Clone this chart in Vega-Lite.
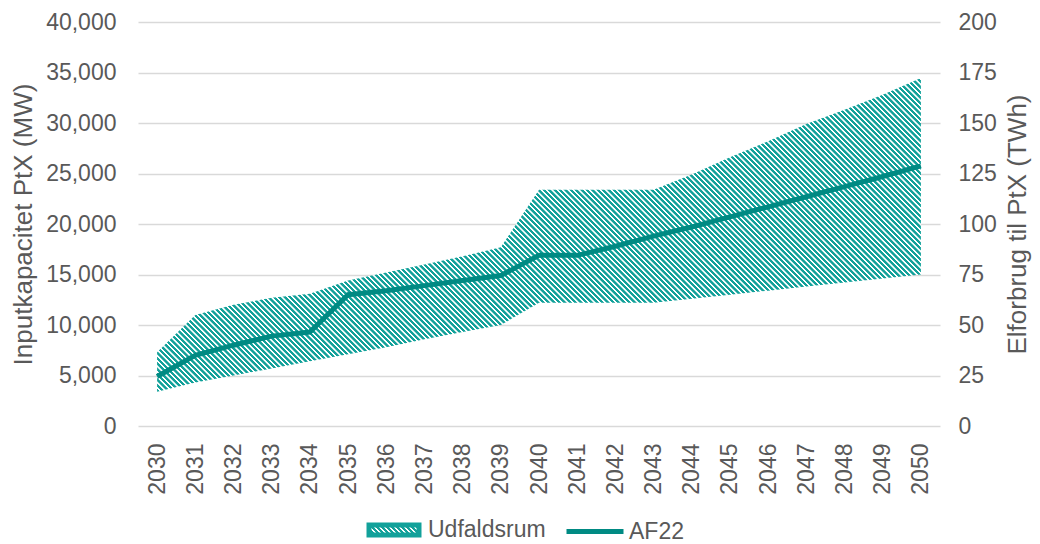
{
"$schema":"https://vega.github.io/schema/vega-lite/v6.json",
"width":802,"height":404,
"autosize":{"type":"none"},
"padding":{"left":138,"top":22,"right":100,"bottom":118},
"background":"white",
"config":{"view":{"stroke":null},"font":"Liberation Sans",
"axis":{"labelFont":"Liberation Sans","titleFont":"Liberation Sans","labelColor":"#595959","titleColor":"#595959","labelFontSize":23,"titleFontSize":26,"titleFontWeight":"normal","domain":false,"ticks":false,"gridColor":"#d9d9d9","gridWidth":1.5},
"legend":{"labelFont":"Liberation Sans"}},
"data":{"values":[
{"year":"2030","lo":3400,"hi":7300,"af22":4900},
{"year":"2031","lo":4300,"hi":11000,"af22":7000},
{"year":"2032","lo":5000,"hi":12000,"af22":8000},
{"year":"2033","lo":5700,"hi":12700,"af22":8900},
{"year":"2034","lo":6400,"hi":13100,"af22":9300},
{"year":"2035","lo":7100,"hi":14400,"af22":13000},
{"year":"2036","lo":7800,"hi":15200,"af22":13400},
{"year":"2037","lo":8600,"hi":16000,"af22":13900},
{"year":"2038","lo":9300,"hi":16800,"af22":14400},
{"year":"2039","lo":10000,"hi":17700,"af22":14900},
{"year":"2040","lo":12200,"hi":23400,"af22":16900},
{"year":"2041","lo":12200,"hi":23400,"af22":16900},
{"year":"2042","lo":12200,"hi":23400,"af22":17800},
{"year":"2043","lo":12200,"hi":23400,"af22":18800},
{"year":"2044","lo":12600,"hi":24900,"af22":19700},
{"year":"2045","lo":13000,"hi":26600,"af22":20700},
{"year":"2046","lo":13400,"hi":28200,"af22":21700},
{"year":"2047","lo":13800,"hi":29900,"af22":22700},
{"year":"2048","lo":14200,"hi":31300,"af22":23700},
{"year":"2049","lo":14600,"hi":32800,"af22":24700},
{"year":"2050","lo":15000,"hi":34450,"af22":25750}
]},
"layer":[
{"layer":[
{"mark":{"type":"area","fill":{"gradient":"linear","x1":0,"y1":1,"x2":1.2071,"y2":0.5044,"stops":[
{"offset":0,"color":"#12a19a"},{"offset":0.0025,"color":"#12a19a"},{"offset":0.003,"color":"#fff"},{"offset":0.0045,"color":"#fff"},{"offset":0.005,"color":"#12a19a"},{"offset":0.0075,"color":"#12a19a"},{"offset":0.008,"color":"#fff"},{"offset":0.0095,"color":"#fff"},
{"offset":0.01,"color":"#12a19a"},{"offset":0.0125,"color":"#12a19a"},{"offset":0.013,"color":"#fff"},{"offset":0.0145,"color":"#fff"},{"offset":0.015,"color":"#12a19a"},{"offset":0.0175,"color":"#12a19a"},{"offset":0.018,"color":"#fff"},{"offset":0.0195,"color":"#fff"},
{"offset":0.02,"color":"#12a19a"},{"offset":0.0225,"color":"#12a19a"},{"offset":0.023,"color":"#fff"},{"offset":0.0245,"color":"#fff"},{"offset":0.025,"color":"#12a19a"},{"offset":0.0275,"color":"#12a19a"},{"offset":0.028,"color":"#fff"},{"offset":0.0295,"color":"#fff"},
{"offset":0.03,"color":"#12a19a"},{"offset":0.0325,"color":"#12a19a"},{"offset":0.033,"color":"#fff"},{"offset":0.0345,"color":"#fff"},{"offset":0.035,"color":"#12a19a"},{"offset":0.0375,"color":"#12a19a"},{"offset":0.038,"color":"#fff"},{"offset":0.0395,"color":"#fff"},
{"offset":0.04,"color":"#12a19a"},{"offset":0.0425,"color":"#12a19a"},{"offset":0.043,"color":"#fff"},{"offset":0.0445,"color":"#fff"},{"offset":0.045,"color":"#12a19a"},{"offset":0.0475,"color":"#12a19a"},{"offset":0.048,"color":"#fff"},{"offset":0.0495,"color":"#fff"},
{"offset":0.05,"color":"#12a19a"},{"offset":0.0525,"color":"#12a19a"},{"offset":0.053,"color":"#fff"},{"offset":0.0545,"color":"#fff"},{"offset":0.055,"color":"#12a19a"},{"offset":0.0575,"color":"#12a19a"},{"offset":0.058,"color":"#fff"},{"offset":0.0595,"color":"#fff"},
{"offset":0.06,"color":"#12a19a"},{"offset":0.0625,"color":"#12a19a"},{"offset":0.063,"color":"#fff"},{"offset":0.0645,"color":"#fff"},{"offset":0.065,"color":"#12a19a"},{"offset":0.0675,"color":"#12a19a"},{"offset":0.068,"color":"#fff"},{"offset":0.0695,"color":"#fff"},
{"offset":0.07,"color":"#12a19a"},{"offset":0.0725,"color":"#12a19a"},{"offset":0.073,"color":"#fff"},{"offset":0.0745,"color":"#fff"},{"offset":0.075,"color":"#12a19a"},{"offset":0.0775,"color":"#12a19a"},{"offset":0.078,"color":"#fff"},{"offset":0.0795,"color":"#fff"},
{"offset":0.08,"color":"#12a19a"},{"offset":0.0825,"color":"#12a19a"},{"offset":0.083,"color":"#fff"},{"offset":0.0845,"color":"#fff"},{"offset":0.085,"color":"#12a19a"},{"offset":0.0875,"color":"#12a19a"},{"offset":0.088,"color":"#fff"},{"offset":0.0895,"color":"#fff"},
{"offset":0.09,"color":"#12a19a"},{"offset":0.0925,"color":"#12a19a"},{"offset":0.093,"color":"#fff"},{"offset":0.0945,"color":"#fff"},{"offset":0.095,"color":"#12a19a"},{"offset":0.0975,"color":"#12a19a"},{"offset":0.098,"color":"#fff"},{"offset":0.0995,"color":"#fff"},
{"offset":0.1,"color":"#12a19a"},{"offset":0.1025,"color":"#12a19a"},{"offset":0.103,"color":"#fff"},{"offset":0.1045,"color":"#fff"},{"offset":0.105,"color":"#12a19a"},{"offset":0.1075,"color":"#12a19a"},{"offset":0.108,"color":"#fff"},{"offset":0.1095,"color":"#fff"},
{"offset":0.11,"color":"#12a19a"},{"offset":0.1125,"color":"#12a19a"},{"offset":0.113,"color":"#fff"},{"offset":0.1145,"color":"#fff"},{"offset":0.115,"color":"#12a19a"},{"offset":0.1175,"color":"#12a19a"},{"offset":0.118,"color":"#fff"},{"offset":0.1195,"color":"#fff"},
{"offset":0.12,"color":"#12a19a"},{"offset":0.1225,"color":"#12a19a"},{"offset":0.123,"color":"#fff"},{"offset":0.1245,"color":"#fff"},{"offset":0.125,"color":"#12a19a"},{"offset":0.1275,"color":"#12a19a"},{"offset":0.128,"color":"#fff"},{"offset":0.1295,"color":"#fff"},
{"offset":0.13,"color":"#12a19a"},{"offset":0.1325,"color":"#12a19a"},{"offset":0.133,"color":"#fff"},{"offset":0.1345,"color":"#fff"},{"offset":0.135,"color":"#12a19a"},{"offset":0.1375,"color":"#12a19a"},{"offset":0.138,"color":"#fff"},{"offset":0.1395,"color":"#fff"},
{"offset":0.14,"color":"#12a19a"},{"offset":0.1425,"color":"#12a19a"},{"offset":0.143,"color":"#fff"},{"offset":0.1445,"color":"#fff"},{"offset":0.145,"color":"#12a19a"},{"offset":0.1475,"color":"#12a19a"},{"offset":0.148,"color":"#fff"},{"offset":0.1495,"color":"#fff"},
{"offset":0.15,"color":"#12a19a"},{"offset":0.1525,"color":"#12a19a"},{"offset":0.153,"color":"#fff"},{"offset":0.1545,"color":"#fff"},{"offset":0.155,"color":"#12a19a"},{"offset":0.1575,"color":"#12a19a"},{"offset":0.158,"color":"#fff"},{"offset":0.1595,"color":"#fff"},
{"offset":0.16,"color":"#12a19a"},{"offset":0.1625,"color":"#12a19a"},{"offset":0.163,"color":"#fff"},{"offset":0.1645,"color":"#fff"},{"offset":0.165,"color":"#12a19a"},{"offset":0.1675,"color":"#12a19a"},{"offset":0.168,"color":"#fff"},{"offset":0.1695,"color":"#fff"},
{"offset":0.17,"color":"#12a19a"},{"offset":0.1725,"color":"#12a19a"},{"offset":0.173,"color":"#fff"},{"offset":0.1745,"color":"#fff"},{"offset":0.175,"color":"#12a19a"},{"offset":0.1775,"color":"#12a19a"},{"offset":0.178,"color":"#fff"},{"offset":0.1795,"color":"#fff"},
{"offset":0.18,"color":"#12a19a"},{"offset":0.1825,"color":"#12a19a"},{"offset":0.183,"color":"#fff"},{"offset":0.1845,"color":"#fff"},{"offset":0.185,"color":"#12a19a"},{"offset":0.1875,"color":"#12a19a"},{"offset":0.188,"color":"#fff"},{"offset":0.1895,"color":"#fff"},
{"offset":0.19,"color":"#12a19a"},{"offset":0.1925,"color":"#12a19a"},{"offset":0.193,"color":"#fff"},{"offset":0.1945,"color":"#fff"},{"offset":0.195,"color":"#12a19a"},{"offset":0.1975,"color":"#12a19a"},{"offset":0.198,"color":"#fff"},{"offset":0.1995,"color":"#fff"},
{"offset":0.2,"color":"#12a19a"},{"offset":0.2025,"color":"#12a19a"},{"offset":0.203,"color":"#fff"},{"offset":0.2045,"color":"#fff"},{"offset":0.205,"color":"#12a19a"},{"offset":0.2075,"color":"#12a19a"},{"offset":0.208,"color":"#fff"},{"offset":0.2095,"color":"#fff"},
{"offset":0.21,"color":"#12a19a"},{"offset":0.2125,"color":"#12a19a"},{"offset":0.213,"color":"#fff"},{"offset":0.2145,"color":"#fff"},{"offset":0.215,"color":"#12a19a"},{"offset":0.2175,"color":"#12a19a"},{"offset":0.218,"color":"#fff"},{"offset":0.2195,"color":"#fff"},
{"offset":0.22,"color":"#12a19a"},{"offset":0.2225,"color":"#12a19a"},{"offset":0.223,"color":"#fff"},{"offset":0.2245,"color":"#fff"},{"offset":0.225,"color":"#12a19a"},{"offset":0.2275,"color":"#12a19a"},{"offset":0.228,"color":"#fff"},{"offset":0.2295,"color":"#fff"},
{"offset":0.23,"color":"#12a19a"},{"offset":0.2325,"color":"#12a19a"},{"offset":0.233,"color":"#fff"},{"offset":0.2345,"color":"#fff"},{"offset":0.235,"color":"#12a19a"},{"offset":0.2375,"color":"#12a19a"},{"offset":0.238,"color":"#fff"},{"offset":0.2395,"color":"#fff"},
{"offset":0.24,"color":"#12a19a"},{"offset":0.2425,"color":"#12a19a"},{"offset":0.243,"color":"#fff"},{"offset":0.2445,"color":"#fff"},{"offset":0.245,"color":"#12a19a"},{"offset":0.2475,"color":"#12a19a"},{"offset":0.248,"color":"#fff"},{"offset":0.2495,"color":"#fff"},
{"offset":0.25,"color":"#12a19a"},{"offset":0.2525,"color":"#12a19a"},{"offset":0.253,"color":"#fff"},{"offset":0.2545,"color":"#fff"},{"offset":0.255,"color":"#12a19a"},{"offset":0.2575,"color":"#12a19a"},{"offset":0.258,"color":"#fff"},{"offset":0.2595,"color":"#fff"},
{"offset":0.26,"color":"#12a19a"},{"offset":0.2625,"color":"#12a19a"},{"offset":0.263,"color":"#fff"},{"offset":0.2645,"color":"#fff"},{"offset":0.265,"color":"#12a19a"},{"offset":0.2675,"color":"#12a19a"},{"offset":0.268,"color":"#fff"},{"offset":0.2695,"color":"#fff"},
{"offset":0.27,"color":"#12a19a"},{"offset":0.2725,"color":"#12a19a"},{"offset":0.273,"color":"#fff"},{"offset":0.2745,"color":"#fff"},{"offset":0.275,"color":"#12a19a"},{"offset":0.2775,"color":"#12a19a"},{"offset":0.278,"color":"#fff"},{"offset":0.2795,"color":"#fff"},
{"offset":0.28,"color":"#12a19a"},{"offset":0.2825,"color":"#12a19a"},{"offset":0.283,"color":"#fff"},{"offset":0.2845,"color":"#fff"},{"offset":0.285,"color":"#12a19a"},{"offset":0.2875,"color":"#12a19a"},{"offset":0.288,"color":"#fff"},{"offset":0.2895,"color":"#fff"},
{"offset":0.29,"color":"#12a19a"},{"offset":0.2925,"color":"#12a19a"},{"offset":0.293,"color":"#fff"},{"offset":0.2945,"color":"#fff"},{"offset":0.295,"color":"#12a19a"},{"offset":0.2975,"color":"#12a19a"},{"offset":0.298,"color":"#fff"},{"offset":0.2995,"color":"#fff"},
{"offset":0.3,"color":"#12a19a"},{"offset":0.3025,"color":"#12a19a"},{"offset":0.303,"color":"#fff"},{"offset":0.3045,"color":"#fff"},{"offset":0.305,"color":"#12a19a"},{"offset":0.3075,"color":"#12a19a"},{"offset":0.308,"color":"#fff"},{"offset":0.3095,"color":"#fff"},
{"offset":0.31,"color":"#12a19a"},{"offset":0.3125,"color":"#12a19a"},{"offset":0.313,"color":"#fff"},{"offset":0.3145,"color":"#fff"},{"offset":0.315,"color":"#12a19a"},{"offset":0.3175,"color":"#12a19a"},{"offset":0.318,"color":"#fff"},{"offset":0.3195,"color":"#fff"},
{"offset":0.32,"color":"#12a19a"},{"offset":0.3225,"color":"#12a19a"},{"offset":0.323,"color":"#fff"},{"offset":0.3245,"color":"#fff"},{"offset":0.325,"color":"#12a19a"},{"offset":0.3275,"color":"#12a19a"},{"offset":0.328,"color":"#fff"},{"offset":0.3295,"color":"#fff"},
{"offset":0.33,"color":"#12a19a"},{"offset":0.3325,"color":"#12a19a"},{"offset":0.333,"color":"#fff"},{"offset":0.3345,"color":"#fff"},{"offset":0.335,"color":"#12a19a"},{"offset":0.3375,"color":"#12a19a"},{"offset":0.338,"color":"#fff"},{"offset":0.3395,"color":"#fff"},
{"offset":0.34,"color":"#12a19a"},{"offset":0.3425,"color":"#12a19a"},{"offset":0.343,"color":"#fff"},{"offset":0.3445,"color":"#fff"},{"offset":0.345,"color":"#12a19a"},{"offset":0.3475,"color":"#12a19a"},{"offset":0.348,"color":"#fff"},{"offset":0.3495,"color":"#fff"},
{"offset":0.35,"color":"#12a19a"},{"offset":0.3525,"color":"#12a19a"},{"offset":0.353,"color":"#fff"},{"offset":0.3545,"color":"#fff"},{"offset":0.355,"color":"#12a19a"},{"offset":0.3575,"color":"#12a19a"},{"offset":0.358,"color":"#fff"},{"offset":0.3595,"color":"#fff"},
{"offset":0.36,"color":"#12a19a"},{"offset":0.3625,"color":"#12a19a"},{"offset":0.363,"color":"#fff"},{"offset":0.3645,"color":"#fff"},{"offset":0.365,"color":"#12a19a"},{"offset":0.3675,"color":"#12a19a"},{"offset":0.368,"color":"#fff"},{"offset":0.3695,"color":"#fff"},
{"offset":0.37,"color":"#12a19a"},{"offset":0.3725,"color":"#12a19a"},{"offset":0.373,"color":"#fff"},{"offset":0.3745,"color":"#fff"},{"offset":0.375,"color":"#12a19a"},{"offset":0.3775,"color":"#12a19a"},{"offset":0.378,"color":"#fff"},{"offset":0.3795,"color":"#fff"},
{"offset":0.38,"color":"#12a19a"},{"offset":0.3825,"color":"#12a19a"},{"offset":0.383,"color":"#fff"},{"offset":0.3845,"color":"#fff"},{"offset":0.385,"color":"#12a19a"},{"offset":0.3875,"color":"#12a19a"},{"offset":0.388,"color":"#fff"},{"offset":0.3895,"color":"#fff"},
{"offset":0.39,"color":"#12a19a"},{"offset":0.3925,"color":"#12a19a"},{"offset":0.393,"color":"#fff"},{"offset":0.3945,"color":"#fff"},{"offset":0.395,"color":"#12a19a"},{"offset":0.3975,"color":"#12a19a"},{"offset":0.398,"color":"#fff"},{"offset":0.3995,"color":"#fff"},
{"offset":0.4,"color":"#12a19a"},{"offset":0.4025,"color":"#12a19a"},{"offset":0.403,"color":"#fff"},{"offset":0.4045,"color":"#fff"},{"offset":0.405,"color":"#12a19a"},{"offset":0.4075,"color":"#12a19a"},{"offset":0.408,"color":"#fff"},{"offset":0.4095,"color":"#fff"},
{"offset":0.41,"color":"#12a19a"},{"offset":0.4125,"color":"#12a19a"},{"offset":0.413,"color":"#fff"},{"offset":0.4145,"color":"#fff"},{"offset":0.415,"color":"#12a19a"},{"offset":0.4175,"color":"#12a19a"},{"offset":0.418,"color":"#fff"},{"offset":0.4195,"color":"#fff"},
{"offset":0.42,"color":"#12a19a"},{"offset":0.4225,"color":"#12a19a"},{"offset":0.423,"color":"#fff"},{"offset":0.4245,"color":"#fff"},{"offset":0.425,"color":"#12a19a"},{"offset":0.4275,"color":"#12a19a"},{"offset":0.428,"color":"#fff"},{"offset":0.4295,"color":"#fff"},
{"offset":0.43,"color":"#12a19a"},{"offset":0.4325,"color":"#12a19a"},{"offset":0.433,"color":"#fff"},{"offset":0.4345,"color":"#fff"},{"offset":0.435,"color":"#12a19a"},{"offset":0.4375,"color":"#12a19a"},{"offset":0.438,"color":"#fff"},{"offset":0.4395,"color":"#fff"},
{"offset":0.44,"color":"#12a19a"},{"offset":0.4425,"color":"#12a19a"},{"offset":0.443,"color":"#fff"},{"offset":0.4445,"color":"#fff"},{"offset":0.445,"color":"#12a19a"},{"offset":0.4475,"color":"#12a19a"},{"offset":0.448,"color":"#fff"},{"offset":0.4495,"color":"#fff"},
{"offset":0.45,"color":"#12a19a"},{"offset":0.4525,"color":"#12a19a"},{"offset":0.453,"color":"#fff"},{"offset":0.4545,"color":"#fff"},{"offset":0.455,"color":"#12a19a"},{"offset":0.4575,"color":"#12a19a"},{"offset":0.458,"color":"#fff"},{"offset":0.4595,"color":"#fff"},
{"offset":0.46,"color":"#12a19a"},{"offset":0.4625,"color":"#12a19a"},{"offset":0.463,"color":"#fff"},{"offset":0.4645,"color":"#fff"},{"offset":0.465,"color":"#12a19a"},{"offset":0.4675,"color":"#12a19a"},{"offset":0.468,"color":"#fff"},{"offset":0.4695,"color":"#fff"},
{"offset":0.47,"color":"#12a19a"},{"offset":0.4725,"color":"#12a19a"},{"offset":0.473,"color":"#fff"},{"offset":0.4745,"color":"#fff"},{"offset":0.475,"color":"#12a19a"},{"offset":0.4775,"color":"#12a19a"},{"offset":0.478,"color":"#fff"},{"offset":0.4795,"color":"#fff"},
{"offset":0.48,"color":"#12a19a"},{"offset":0.4825,"color":"#12a19a"},{"offset":0.483,"color":"#fff"},{"offset":0.4845,"color":"#fff"},{"offset":0.485,"color":"#12a19a"},{"offset":0.4875,"color":"#12a19a"},{"offset":0.488,"color":"#fff"},{"offset":0.4895,"color":"#fff"},
{"offset":0.49,"color":"#12a19a"},{"offset":0.4925,"color":"#12a19a"},{"offset":0.493,"color":"#fff"},{"offset":0.4945,"color":"#fff"},{"offset":0.495,"color":"#12a19a"},{"offset":0.4975,"color":"#12a19a"},{"offset":0.498,"color":"#fff"},{"offset":0.4995,"color":"#fff"},
{"offset":0.5,"color":"#12a19a"},{"offset":0.5025,"color":"#12a19a"},{"offset":0.503,"color":"#fff"},{"offset":0.5045,"color":"#fff"},{"offset":0.505,"color":"#12a19a"},{"offset":0.5075,"color":"#12a19a"},{"offset":0.508,"color":"#fff"},{"offset":0.5095,"color":"#fff"},
{"offset":0.51,"color":"#12a19a"},{"offset":0.5125,"color":"#12a19a"},{"offset":0.513,"color":"#fff"},{"offset":0.5145,"color":"#fff"},{"offset":0.515,"color":"#12a19a"},{"offset":0.5175,"color":"#12a19a"},{"offset":0.518,"color":"#fff"},{"offset":0.5195,"color":"#fff"},
{"offset":0.52,"color":"#12a19a"},{"offset":0.5225,"color":"#12a19a"},{"offset":0.523,"color":"#fff"},{"offset":0.5245,"color":"#fff"},{"offset":0.525,"color":"#12a19a"},{"offset":0.5275,"color":"#12a19a"},{"offset":0.528,"color":"#fff"},{"offset":0.5295,"color":"#fff"},
{"offset":0.53,"color":"#12a19a"},{"offset":0.5325,"color":"#12a19a"},{"offset":0.533,"color":"#fff"},{"offset":0.5345,"color":"#fff"},{"offset":0.535,"color":"#12a19a"},{"offset":0.5375,"color":"#12a19a"},{"offset":0.538,"color":"#fff"},{"offset":0.5395,"color":"#fff"},
{"offset":0.54,"color":"#12a19a"},{"offset":0.5425,"color":"#12a19a"},{"offset":0.543,"color":"#fff"},{"offset":0.5445,"color":"#fff"},{"offset":0.545,"color":"#12a19a"},{"offset":0.5475,"color":"#12a19a"},{"offset":0.548,"color":"#fff"},{"offset":0.5495,"color":"#fff"},
{"offset":0.55,"color":"#12a19a"},{"offset":0.5525,"color":"#12a19a"},{"offset":0.553,"color":"#fff"},{"offset":0.5545,"color":"#fff"},{"offset":0.555,"color":"#12a19a"},{"offset":0.5575,"color":"#12a19a"},{"offset":0.558,"color":"#fff"},{"offset":0.5595,"color":"#fff"},
{"offset":0.56,"color":"#12a19a"},{"offset":0.5625,"color":"#12a19a"},{"offset":0.563,"color":"#fff"},{"offset":0.5645,"color":"#fff"},{"offset":0.565,"color":"#12a19a"},{"offset":0.5675,"color":"#12a19a"},{"offset":0.568,"color":"#fff"},{"offset":0.5695,"color":"#fff"},
{"offset":0.57,"color":"#12a19a"},{"offset":0.5725,"color":"#12a19a"},{"offset":0.573,"color":"#fff"},{"offset":0.5745,"color":"#fff"},{"offset":0.575,"color":"#12a19a"},{"offset":0.5775,"color":"#12a19a"},{"offset":0.578,"color":"#fff"},{"offset":0.5795,"color":"#fff"},
{"offset":0.58,"color":"#12a19a"},{"offset":0.5825,"color":"#12a19a"},{"offset":0.583,"color":"#fff"},{"offset":0.5845,"color":"#fff"},{"offset":0.585,"color":"#12a19a"},{"offset":0.5875,"color":"#12a19a"},{"offset":0.588,"color":"#fff"},{"offset":0.5895,"color":"#fff"},
{"offset":0.59,"color":"#12a19a"},{"offset":0.5925,"color":"#12a19a"},{"offset":0.593,"color":"#fff"},{"offset":0.5945,"color":"#fff"},{"offset":0.595,"color":"#12a19a"},{"offset":0.5975,"color":"#12a19a"},{"offset":0.598,"color":"#fff"},{"offset":0.5995,"color":"#fff"},
{"offset":0.6,"color":"#12a19a"},{"offset":0.6025,"color":"#12a19a"},{"offset":0.603,"color":"#fff"},{"offset":0.6045,"color":"#fff"},{"offset":0.605,"color":"#12a19a"},{"offset":0.6075,"color":"#12a19a"},{"offset":0.608,"color":"#fff"},{"offset":0.6095,"color":"#fff"},
{"offset":0.61,"color":"#12a19a"},{"offset":0.6125,"color":"#12a19a"},{"offset":0.613,"color":"#fff"},{"offset":0.6145,"color":"#fff"},{"offset":0.615,"color":"#12a19a"},{"offset":0.6175,"color":"#12a19a"},{"offset":0.618,"color":"#fff"},{"offset":0.6195,"color":"#fff"},
{"offset":0.62,"color":"#12a19a"},{"offset":0.6225,"color":"#12a19a"},{"offset":0.623,"color":"#fff"},{"offset":0.6245,"color":"#fff"},{"offset":0.625,"color":"#12a19a"},{"offset":0.6275,"color":"#12a19a"},{"offset":0.628,"color":"#fff"},{"offset":0.6295,"color":"#fff"},
{"offset":0.63,"color":"#12a19a"},{"offset":0.6325,"color":"#12a19a"},{"offset":0.633,"color":"#fff"},{"offset":0.6345,"color":"#fff"},{"offset":0.635,"color":"#12a19a"},{"offset":0.6375,"color":"#12a19a"},{"offset":0.638,"color":"#fff"},{"offset":0.6395,"color":"#fff"},
{"offset":0.64,"color":"#12a19a"},{"offset":0.6425,"color":"#12a19a"},{"offset":0.643,"color":"#fff"},{"offset":0.6445,"color":"#fff"},{"offset":0.645,"color":"#12a19a"},{"offset":0.6475,"color":"#12a19a"},{"offset":0.648,"color":"#fff"},{"offset":0.6495,"color":"#fff"},
{"offset":0.65,"color":"#12a19a"},{"offset":0.6525,"color":"#12a19a"},{"offset":0.653,"color":"#fff"},{"offset":0.6545,"color":"#fff"},{"offset":0.655,"color":"#12a19a"},{"offset":0.6575,"color":"#12a19a"},{"offset":0.658,"color":"#fff"},{"offset":0.6595,"color":"#fff"},
{"offset":0.66,"color":"#12a19a"},{"offset":0.6625,"color":"#12a19a"},{"offset":0.663,"color":"#fff"},{"offset":0.6645,"color":"#fff"},{"offset":0.665,"color":"#12a19a"},{"offset":0.6675,"color":"#12a19a"},{"offset":0.668,"color":"#fff"},{"offset":0.6695,"color":"#fff"},
{"offset":0.67,"color":"#12a19a"},{"offset":0.6725,"color":"#12a19a"},{"offset":0.673,"color":"#fff"},{"offset":0.6745,"color":"#fff"},{"offset":0.675,"color":"#12a19a"},{"offset":0.6775,"color":"#12a19a"},{"offset":0.678,"color":"#fff"},{"offset":0.6795,"color":"#fff"},
{"offset":0.68,"color":"#12a19a"},{"offset":0.6825,"color":"#12a19a"},{"offset":0.683,"color":"#fff"},{"offset":0.6845,"color":"#fff"},{"offset":0.685,"color":"#12a19a"},{"offset":0.6875,"color":"#12a19a"},{"offset":0.688,"color":"#fff"},{"offset":0.6895,"color":"#fff"},
{"offset":0.69,"color":"#12a19a"},{"offset":0.6925,"color":"#12a19a"},{"offset":0.693,"color":"#fff"},{"offset":0.6945,"color":"#fff"},{"offset":0.695,"color":"#12a19a"},{"offset":0.6975,"color":"#12a19a"},{"offset":0.698,"color":"#fff"},{"offset":0.6995,"color":"#fff"},
{"offset":0.7,"color":"#12a19a"},{"offset":0.7025,"color":"#12a19a"},{"offset":0.703,"color":"#fff"},{"offset":0.7045,"color":"#fff"},{"offset":0.705,"color":"#12a19a"},{"offset":0.7075,"color":"#12a19a"},{"offset":0.708,"color":"#fff"},{"offset":0.7095,"color":"#fff"},
{"offset":0.71,"color":"#12a19a"},{"offset":0.7125,"color":"#12a19a"},{"offset":0.713,"color":"#fff"},{"offset":0.7145,"color":"#fff"},{"offset":0.715,"color":"#12a19a"},{"offset":0.7175,"color":"#12a19a"},{"offset":0.718,"color":"#fff"},{"offset":0.7195,"color":"#fff"},
{"offset":0.72,"color":"#12a19a"},{"offset":0.7225,"color":"#12a19a"},{"offset":0.723,"color":"#fff"},{"offset":0.7245,"color":"#fff"},{"offset":0.725,"color":"#12a19a"},{"offset":0.7275,"color":"#12a19a"},{"offset":0.728,"color":"#fff"},{"offset":0.7295,"color":"#fff"},
{"offset":0.73,"color":"#12a19a"},{"offset":0.7325,"color":"#12a19a"},{"offset":0.733,"color":"#fff"},{"offset":0.7345,"color":"#fff"},{"offset":0.735,"color":"#12a19a"},{"offset":0.7375,"color":"#12a19a"},{"offset":0.738,"color":"#fff"},{"offset":0.7395,"color":"#fff"},
{"offset":0.74,"color":"#12a19a"},{"offset":0.7425,"color":"#12a19a"},{"offset":0.743,"color":"#fff"},{"offset":0.7445,"color":"#fff"},{"offset":0.745,"color":"#12a19a"},{"offset":0.7475,"color":"#12a19a"},{"offset":0.748,"color":"#fff"},{"offset":0.7495,"color":"#fff"},
{"offset":0.75,"color":"#12a19a"},{"offset":0.7525,"color":"#12a19a"},{"offset":0.753,"color":"#fff"},{"offset":0.7545,"color":"#fff"},{"offset":0.755,"color":"#12a19a"},{"offset":0.7575,"color":"#12a19a"},{"offset":0.758,"color":"#fff"},{"offset":0.7595,"color":"#fff"},
{"offset":0.76,"color":"#12a19a"},{"offset":0.7625,"color":"#12a19a"},{"offset":0.763,"color":"#fff"},{"offset":0.7645,"color":"#fff"},{"offset":0.765,"color":"#12a19a"},{"offset":0.7675,"color":"#12a19a"},{"offset":0.768,"color":"#fff"},{"offset":0.7695,"color":"#fff"},
{"offset":0.77,"color":"#12a19a"},{"offset":0.7725,"color":"#12a19a"},{"offset":0.773,"color":"#fff"},{"offset":0.7745,"color":"#fff"},{"offset":0.775,"color":"#12a19a"},{"offset":0.7775,"color":"#12a19a"},{"offset":0.778,"color":"#fff"},{"offset":0.7795,"color":"#fff"},
{"offset":0.78,"color":"#12a19a"},{"offset":0.7825,"color":"#12a19a"},{"offset":0.783,"color":"#fff"},{"offset":0.7845,"color":"#fff"},{"offset":0.785,"color":"#12a19a"},{"offset":0.7875,"color":"#12a19a"},{"offset":0.788,"color":"#fff"},{"offset":0.7895,"color":"#fff"},
{"offset":0.79,"color":"#12a19a"},{"offset":0.7925,"color":"#12a19a"},{"offset":0.793,"color":"#fff"},{"offset":0.7945,"color":"#fff"},{"offset":0.795,"color":"#12a19a"},{"offset":0.7975,"color":"#12a19a"},{"offset":0.798,"color":"#fff"},{"offset":0.7995,"color":"#fff"},
{"offset":0.8,"color":"#12a19a"},{"offset":0.8025,"color":"#12a19a"},{"offset":0.803,"color":"#fff"},{"offset":0.8045,"color":"#fff"},{"offset":0.805,"color":"#12a19a"},{"offset":0.8075,"color":"#12a19a"},{"offset":0.808,"color":"#fff"},{"offset":0.8095,"color":"#fff"},
{"offset":0.81,"color":"#12a19a"},{"offset":0.8125,"color":"#12a19a"},{"offset":0.813,"color":"#fff"},{"offset":0.8145,"color":"#fff"},{"offset":0.815,"color":"#12a19a"},{"offset":0.8175,"color":"#12a19a"},{"offset":0.818,"color":"#fff"},{"offset":0.8195,"color":"#fff"},
{"offset":0.82,"color":"#12a19a"},{"offset":0.8225,"color":"#12a19a"},{"offset":0.823,"color":"#fff"},{"offset":0.8245,"color":"#fff"},{"offset":0.825,"color":"#12a19a"},{"offset":0.8275,"color":"#12a19a"},{"offset":0.828,"color":"#fff"},{"offset":0.8295,"color":"#fff"},
{"offset":0.83,"color":"#12a19a"},{"offset":0.8325,"color":"#12a19a"},{"offset":0.833,"color":"#fff"},{"offset":0.8345,"color":"#fff"},{"offset":0.835,"color":"#12a19a"},{"offset":0.8375,"color":"#12a19a"},{"offset":0.838,"color":"#fff"},{"offset":0.8395,"color":"#fff"},
{"offset":0.84,"color":"#12a19a"},{"offset":0.8425,"color":"#12a19a"},{"offset":0.843,"color":"#fff"},{"offset":0.8445,"color":"#fff"},{"offset":0.845,"color":"#12a19a"},{"offset":0.8475,"color":"#12a19a"},{"offset":0.848,"color":"#fff"},{"offset":0.8495,"color":"#fff"},
{"offset":0.85,"color":"#12a19a"},{"offset":0.8525,"color":"#12a19a"},{"offset":0.853,"color":"#fff"},{"offset":0.8545,"color":"#fff"},{"offset":0.855,"color":"#12a19a"},{"offset":0.8575,"color":"#12a19a"},{"offset":0.858,"color":"#fff"},{"offset":0.8595,"color":"#fff"},
{"offset":0.86,"color":"#12a19a"},{"offset":0.8625,"color":"#12a19a"},{"offset":0.863,"color":"#fff"},{"offset":0.8645,"color":"#fff"},{"offset":0.865,"color":"#12a19a"},{"offset":0.8675,"color":"#12a19a"},{"offset":0.868,"color":"#fff"},{"offset":0.8695,"color":"#fff"},
{"offset":0.87,"color":"#12a19a"},{"offset":0.8725,"color":"#12a19a"},{"offset":0.873,"color":"#fff"},{"offset":0.8745,"color":"#fff"},{"offset":0.875,"color":"#12a19a"},{"offset":0.8775,"color":"#12a19a"},{"offset":0.878,"color":"#fff"},{"offset":0.8795,"color":"#fff"},
{"offset":0.88,"color":"#12a19a"},{"offset":0.8825,"color":"#12a19a"},{"offset":0.883,"color":"#fff"},{"offset":0.8845,"color":"#fff"},{"offset":0.885,"color":"#12a19a"},{"offset":0.8875,"color":"#12a19a"},{"offset":0.888,"color":"#fff"},{"offset":0.8895,"color":"#fff"},
{"offset":0.89,"color":"#12a19a"},{"offset":0.8925,"color":"#12a19a"},{"offset":0.893,"color":"#fff"},{"offset":0.8945,"color":"#fff"},{"offset":0.895,"color":"#12a19a"},{"offset":0.8975,"color":"#12a19a"},{"offset":0.898,"color":"#fff"},{"offset":0.8995,"color":"#fff"},
{"offset":0.9,"color":"#12a19a"},{"offset":0.9025,"color":"#12a19a"},{"offset":0.903,"color":"#fff"},{"offset":0.9045,"color":"#fff"},{"offset":0.905,"color":"#12a19a"},{"offset":0.9075,"color":"#12a19a"},{"offset":0.908,"color":"#fff"},{"offset":0.9095,"color":"#fff"},
{"offset":0.91,"color":"#12a19a"},{"offset":0.9125,"color":"#12a19a"},{"offset":0.913,"color":"#fff"},{"offset":0.9145,"color":"#fff"},{"offset":0.915,"color":"#12a19a"},{"offset":0.9175,"color":"#12a19a"},{"offset":0.918,"color":"#fff"},{"offset":0.9195,"color":"#fff"},
{"offset":0.92,"color":"#12a19a"},{"offset":0.9225,"color":"#12a19a"},{"offset":0.923,"color":"#fff"},{"offset":0.9245,"color":"#fff"},{"offset":0.925,"color":"#12a19a"},{"offset":0.9275,"color":"#12a19a"},{"offset":0.928,"color":"#fff"},{"offset":0.9295,"color":"#fff"},
{"offset":0.93,"color":"#12a19a"},{"offset":0.9325,"color":"#12a19a"},{"offset":0.933,"color":"#fff"},{"offset":0.9345,"color":"#fff"},{"offset":0.935,"color":"#12a19a"},{"offset":0.9375,"color":"#12a19a"},{"offset":0.938,"color":"#fff"},{"offset":0.9395,"color":"#fff"},
{"offset":0.94,"color":"#12a19a"},{"offset":0.9425,"color":"#12a19a"},{"offset":0.943,"color":"#fff"},{"offset":0.9445,"color":"#fff"},{"offset":0.945,"color":"#12a19a"},{"offset":0.9475,"color":"#12a19a"},{"offset":0.948,"color":"#fff"},{"offset":0.9495,"color":"#fff"},
{"offset":0.95,"color":"#12a19a"},{"offset":0.9525,"color":"#12a19a"},{"offset":0.953,"color":"#fff"},{"offset":0.9545,"color":"#fff"},{"offset":0.955,"color":"#12a19a"},{"offset":0.9575,"color":"#12a19a"},{"offset":0.958,"color":"#fff"},{"offset":0.9595,"color":"#fff"},
{"offset":0.96,"color":"#12a19a"},{"offset":0.9625,"color":"#12a19a"},{"offset":0.963,"color":"#fff"},{"offset":0.9645,"color":"#fff"},{"offset":0.965,"color":"#12a19a"},{"offset":0.9675,"color":"#12a19a"},{"offset":0.968,"color":"#fff"},{"offset":0.9695,"color":"#fff"},
{"offset":0.97,"color":"#12a19a"},{"offset":0.9725,"color":"#12a19a"},{"offset":0.973,"color":"#fff"},{"offset":0.9745,"color":"#fff"},{"offset":0.975,"color":"#12a19a"},{"offset":0.9775,"color":"#12a19a"},{"offset":0.978,"color":"#fff"},{"offset":0.9795,"color":"#fff"},
{"offset":0.98,"color":"#12a19a"},{"offset":0.9825,"color":"#12a19a"},{"offset":0.983,"color":"#fff"},{"offset":0.9845,"color":"#fff"},{"offset":0.985,"color":"#12a19a"},{"offset":0.9875,"color":"#12a19a"},{"offset":0.988,"color":"#fff"},{"offset":0.9895,"color":"#fff"},
{"offset":0.99,"color":"#12a19a"},{"offset":0.9925,"color":"#12a19a"},{"offset":0.993,"color":"#fff"},{"offset":0.9945,"color":"#fff"},{"offset":0.995,"color":"#12a19a"},{"offset":0.9975,"color":"#12a19a"},{"offset":0.998,"color":"#fff"},{"offset":0.9995,"color":"#fff"},
{"offset":1,"color":"#12a19a"}
]}},
"encoding":{
"x":{"field":"year","type":"ordinal","scale":{"type":"point","padding":0.5},"axis":{"title":null,"labelAngle":-90,"labelFontSize":23,"labelPadding":17,"grid":false}},
"y":{"field":"lo","type":"quantitative","title":"Inputkapacitet PtX (MW)","scale":{"domain":[0,40000],"nice":false},"axis":{"values":[0,5000,10000,15000,20000,25000,30000,35000,40000],"format":",d","labelPadding":22,"titlePadding":9,"grid":true}},
"y2":{"field":"hi"}}},
{"mark":{"type":"line","strokeWidth":5,"color":"#008a83"},
"encoding":{
"x":{"field":"year","type":"ordinal"},
"y":{"field":"af22","type":"quantitative","title":"Inputkapacitet PtX (MW)"},
"color":{"datum":"AF22","scale":{"domain":["Udfaldsrum","AF22"],"range":["#12a19a","#008a83"]},
"legend":{"orient":"none","legendX":225,"legendY":477,"direction":"horizontal","title":null,"symbolSize":3249,"symbolType":"stroke","symbolStrokeWidth":5,"labelFontSize":23,"labelColor":"#595959","labelOffset":3,"columnPadding":10,
"encode":{"symbols":{"update":{
"shape":[{"test":"datum.value === 'Udfaldsrum'","value":"M-0.877,-0.175H0.877V0.175H-0.877Z"},{"value":"stroke"}],
"fill":[{"test":"datum.value === 'Udfaldsrum'","value":{"gradient":"linear","x1":0,"y1":1,"x2":1.1538,"y2":0.7692,"stops":[
{"offset":0,"color":"#12a19a"},{"offset":0.0417,"color":"#12a19a"},{"offset":0.05,"color":"#fff"},{"offset":0.075,"color":"#fff"},
{"offset":0.0833,"color":"#12a19a"},{"offset":0.125,"color":"#12a19a"},{"offset":0.1333,"color":"#fff"},{"offset":0.1583,"color":"#fff"},
{"offset":0.1667,"color":"#12a19a"},{"offset":0.2083,"color":"#12a19a"},{"offset":0.2167,"color":"#fff"},{"offset":0.2417,"color":"#fff"},
{"offset":0.25,"color":"#12a19a"},{"offset":0.2917,"color":"#12a19a"},{"offset":0.3,"color":"#fff"},{"offset":0.325,"color":"#fff"},
{"offset":0.3333,"color":"#12a19a"},{"offset":0.375,"color":"#12a19a"},{"offset":0.3833,"color":"#fff"},{"offset":0.4083,"color":"#fff"},
{"offset":0.4167,"color":"#12a19a"},{"offset":0.4583,"color":"#12a19a"},{"offset":0.4667,"color":"#fff"},{"offset":0.4917,"color":"#fff"},
{"offset":0.5,"color":"#12a19a"},{"offset":0.5417,"color":"#12a19a"},{"offset":0.55,"color":"#fff"},{"offset":0.575,"color":"#fff"},
{"offset":0.5833,"color":"#12a19a"},{"offset":0.625,"color":"#12a19a"},{"offset":0.6333,"color":"#fff"},{"offset":0.6583,"color":"#fff"},
{"offset":0.6667,"color":"#12a19a"},{"offset":0.7083,"color":"#12a19a"},{"offset":0.7167,"color":"#fff"},{"offset":0.7417,"color":"#fff"},
{"offset":0.75,"color":"#12a19a"},{"offset":0.7917,"color":"#12a19a"},{"offset":0.8,"color":"#fff"},{"offset":0.825,"color":"#fff"},
{"offset":0.8333,"color":"#12a19a"},{"offset":0.875,"color":"#12a19a"},{"offset":0.8833,"color":"#fff"},{"offset":0.9083,"color":"#fff"},
{"offset":0.9167,"color":"#12a19a"},{"offset":0.9583,"color":"#12a19a"},{"offset":0.9667,"color":"#fff"},{"offset":0.9917,"color":"#fff"},
{"offset":1,"color":"#12a19a"}
]}},{"value":"transparent"}],
"stroke":[{"test":"datum.value === 'Udfaldsrum'","value":"transparent"},{"value":"#008a83"}],
"strokeWidth":{"value":5}
}}}}}}}
]},
{"mark":{"type":"rule","opacity":0},
"encoding":{"y":{"datum":0,"type":"quantitative","scale":{"domain":[0,200],"nice":false},
"axis":{"orient":"right","title":"Elforbrug til PtX (TWh)","values":[0,25,50,75,100,125,150,175,200],"labelPadding":18,"titlePadding":8,"titleAngle":270,"titleBaseline":"top","grid":false}}}}
],
"resolve":{"scale":{"y":"independent"}}
}
